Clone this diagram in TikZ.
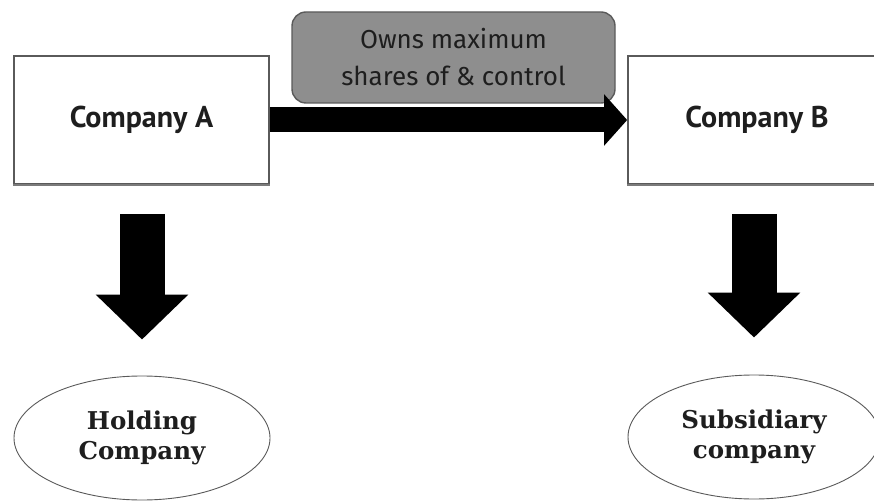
\documentclass[tikz,border=0pt]{standalone}
\usepackage{fontspec}
\newfontfamily\labelfont{PT Sans}
\newfontfamily\notefont{Fira Sans}
\newfontfamily\rolefont{DejaVu Serif}
\usetikzlibrary{shapes.geometric,arrows.meta}
\definecolor{edgegray}{HTML}{5A5A5A}
\definecolor{notegray}{HTML}{8E8E8E}
\definecolor{inkgray}{HTML}{1E1E1E}
\tikzset{
  company/.style={draw=edgegray, line width=1.6pt, fill=white, rectangle,
    minimum width=255pt, minimum height=128pt, inner sep=0pt,
    font=\labelfont\bfseries\fontsize{30}{32}\selectfont, text=inkgray},
  role/.style={draw=edgegray, line width=0.9pt, ellipse, fill=white,
    inner sep=0pt, align=center,
    font=\rolefont\bfseries\fontsize{24.5}{30}\selectfont, text=inkgray},
  note/.style={draw=edgegray, line width=1.4pt, fill=notegray,
    rounded corners=14pt, minimum width=323pt, minimum height=91pt,
    inner sep=0pt, align=center,
    font=\notefont\fontsize{26}{37}\selectfont, text=inkgray},
  fatright/.style={black, line width=25pt,
    -{Triangle[length=23pt 0 0, width=50pt 0 0]}},
  fatdown/.style={black, line width=45pt,
    -{Triangle[length=45pt 0 0, width=90pt 0 0]}},
  shadowline/.style={draw=edgegray!80, line width=2.2pt}
}
\begin{document}
\begin{tikzpicture}[x=1pt, y=-1pt]
  \useasboundingbox (0,0) rectangle (874,502);
  % the two companies
  \node[company] (compA) at (141.5,120) {Company A};
  \node[company, minimum width=258pt] (compB) at (757,120) {Company B};
  % a heavier lower edge gives the boxes a slight lift
  \draw[shadowline] (compA.south west) -- (compA.south east);
  \draw[shadowline] (compB.south west) -- (compB.south east);
  % ownership label above the link
  \node[note] (own) at (453.5,57.5) {Owns maximum\\shares of \& control};
  % roles
  \node[role, minimum width=256pt, minimum height=124pt] (hold) at (142,438)
    {Holding\\Company};
  \node[role, minimum width=252pt, minimum height=124pt] (subs) at (754,437)
    {Subsidiary\\company};
  % connectors
  \draw[fatright] (compA.east) -- (compB.west);
  \draw[fatdown, shorten <=29pt, shorten >=36pt] (compA.south -| hold.north) -- (hold.north);
  \draw[fatdown, shorten <=29pt, shorten >=37pt] (compB.south -| subs.north) -- (subs.north);
\end{tikzpicture}
\end{document}
